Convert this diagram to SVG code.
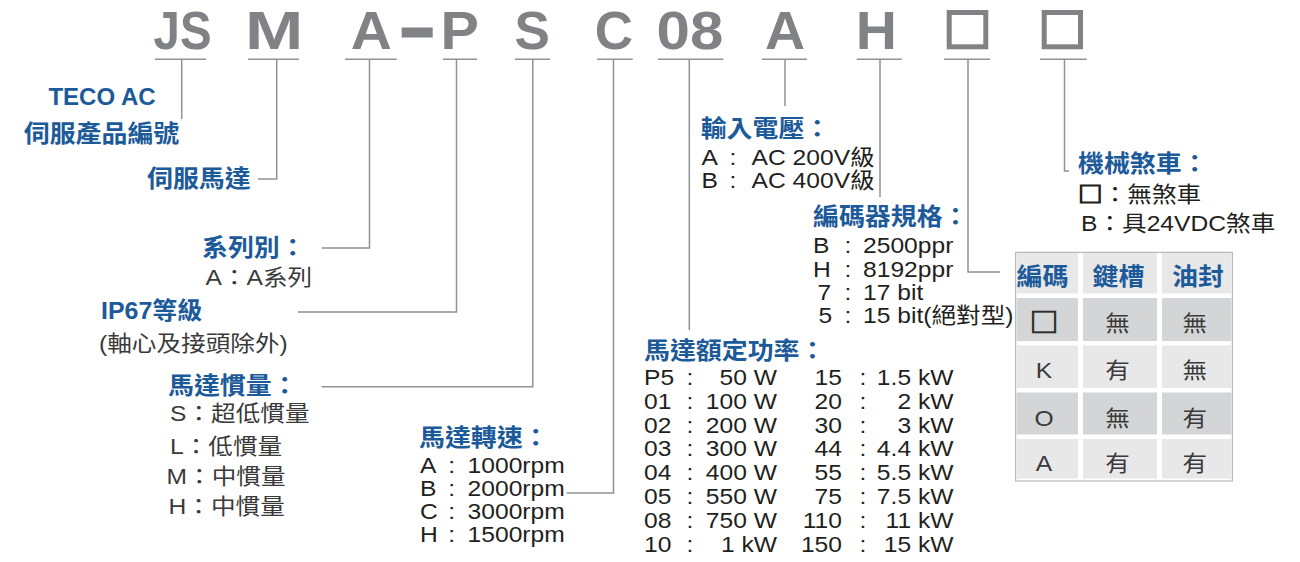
<svg xmlns="http://www.w3.org/2000/svg" width="1300" height="562" viewBox="0 0 1300 562">
<style>
.code{font-family:"Liberation Sans",Arial,sans-serif;font-weight:bold;font-size:53px;fill:#808285}
.h{font-family:"Liberation Sans","Noto Sans CJK TC",sans-serif;font-weight:bold;font-size:24px;fill:#1d5a9a}
.b{font-family:"Liberation Sans","Noto Sans CJK TC",sans-serif;font-size:22px;fill:#231f20}
.cj{font-family:"Noto Sans CJK TC",sans-serif}
.g{fill:#3a3a3a}
.e{text-anchor:end}
.m{text-anchor:middle}
.sq{font-family:"Noto Sans CJK TC",sans-serif;font-weight:bold;font-size:26px;stroke:#231f20;stroke-width:0.7}
.sq2{font-weight:bold;stroke:#231f20;stroke-width:1.1}
.ln{fill:none;stroke:#8f9194;stroke-width:1.5}
.cl{fill:#e8e8e9}
.cd{fill:#d4d5d6}
</style>
<rect width="1300" height="562" fill="#ffffff"/>

<!-- code segments -->
<g id="code-JS"><text class="code" x="153.6" y="49" textLength="57.9" lengthAdjust="spacingAndGlyphs">JS</text></g>
<g id="code-M"><text class="code" x="245.1" y="49" textLength="58.3" lengthAdjust="spacingAndGlyphs">M</text></g>
<g id="code-A"><text class="code" x="350.7" y="49" textLength="41.1" lengthAdjust="spacingAndGlyphs">A</text></g>
<g id="code-dash"><rect x="401.7" y="27.5" width="31" height="10" fill="#808285"/></g>
<g id="code-P"><text class="code" x="440.6" y="49" textLength="38.4" lengthAdjust="spacingAndGlyphs">P</text></g>
<g id="code-S"><text class="code" x="514.6" y="49" textLength="35.4" lengthAdjust="spacingAndGlyphs">S</text></g>
<g id="code-C"><text class="code" x="594.7" y="49" textLength="38.3" lengthAdjust="spacingAndGlyphs">C</text></g>
<g id="code-08"><text class="code" x="656.6" y="49" textLength="66.8" lengthAdjust="spacingAndGlyphs">08</text></g>
<g id="code-A2"><text class="code" x="765" y="49" textLength="40.1" lengthAdjust="spacingAndGlyphs">A</text></g>
<g id="code-H"><text class="code" x="855.7" y="49" textLength="41.2" lengthAdjust="spacingAndGlyphs">H</text></g>
<g id="code-box1"><rect x="949.2" y="12.5" width="36.6" height="34.3" fill="none" stroke="#808285" stroke-width="5"/></g>
<g id="code-box2"><rect x="1044.2" y="12.5" width="36.3" height="34.3" fill="none" stroke="#808285" stroke-width="5"/></g>

<!-- connectors -->
<g id="connectors" class="ln">
<path d="M155 59.3H206M248 59.3H299M345 59.3H396.7M443 59.3H477M515 59.3H550M597 59.3H632.7M658 59.3H723.3M762 59.3H807M856.7 59.3H901.7M944 59.3H990M1040 59.3H1086.7"/>
<path d="M181.7 59.3V119"/>
<path d="M276.7 59.3V179H258"/>
<path d="M369.5 59.3V248H321.7"/>
<path d="M456.5 59.3V312H298"/>
<path d="M532.8 59.3V386.7H321.7"/>
<path d="M613.5 59.3V493H566.7"/>
<path d="M689.3 59.3V330"/>
<path d="M785 59.3V106"/>
<path d="M880 59.3V197"/>
<path d="M968 59.3V272H1000"/>
<path d="M1064.5 59.3V171H1069"/>
</g>

<!-- labels -->
<g id="n-teco">
<text class="h m" x="102" y="104.6" font-size="25">TECO AC</text>
<g transform="scale(1.08 1)"><text class="h m" x="93.98" y="142">伺服產品編號</text></g>
</g>
<g id="n-servo"><g transform="scale(1.08 1)"><text class="h" x="136.11" y="187.5">伺服馬達</text></g></g>
<g id="n-series">
<g transform="scale(1.08 1)"><text class="h" x="187.04" y="256">系列別：</text></g>
<g transform="scale(1.12 1)"><text class="b g" x="183.48" y="285">A：A系列</text></g>
</g>
<g id="n-ip67">
<g transform="scale(1.04 1)"><text class="h" x="97.12" y="319">IP67等級</text></g>
<g transform="scale(1.12 1)"><text class="b g" x="88.39" y="351">(軸心及接頭除外)</text></g>
</g>
<g id="n-inertia">
<g transform="scale(1.08 1)"><text class="h" x="155.56" y="394">馬達慣量：</text></g>
<g transform="scale(1.12 1)" class="b g">
<text x="151.79" y="421">S：超低慣量</text>
<text x="151.79" y="454">L：低慣量</text>
<text x="148.66" y="484">M：中慣量</text>
<text x="150.45" y="514">H：中慣量</text>
</g>
</g>
<g id="n-speed">
<g transform="scale(1.08 1)"><text class="h" x="387.96" y="446">馬達轉速：</text></g>
<g transform="scale(1.12 1)" class="b">
<text x="375" y="473.5">A</text><text x="400.27" y="473.5">:</text><text x="417.5" y="473.5">1000rpm</text>
<text x="375" y="496.5">B</text><text x="400.27" y="496.5">:</text><text x="417.5" y="496.5">2000rpm</text>
<text x="375" y="519.5">C</text><text x="400.27" y="519.5">:</text><text x="417.5" y="519.5">3000rpm</text>
<text x="375" y="542.5">H</text><text x="400.27" y="542.5">:</text><text x="417.5" y="542.5">1500rpm</text>
</g>
</g>
<g id="n-power">
<g transform="scale(1.08 1)"><text class="h" x="596.3" y="359.5">馬達額定功率：</text></g>
<g transform="scale(1.12 1)" class="b">
<text x="575" y="385">P5</text><text x="613.04" y="385">:</text><text class="e" x="693.75" y="385">50 W</text><text class="e" x="751.79" y="385">15</text><text x="767.5" y="385">:</text><text class="e" x="851.34" y="385">1.5 kW</text>
<text x="575" y="408.8">01</text><text x="613.04" y="408.8">:</text><text class="e" x="693.75" y="408.8">100 W</text><text class="e" x="751.79" y="408.8">20</text><text x="767.5" y="408.8">:</text><text class="e" x="851.34" y="408.8">2 kW</text>
<text x="575" y="432.6">02</text><text x="613.04" y="432.6">:</text><text class="e" x="693.75" y="432.6">200 W</text><text class="e" x="751.79" y="432.6">30</text><text x="767.5" y="432.6">:</text><text class="e" x="851.34" y="432.6">3 kW</text>
<text x="575" y="456.4">03</text><text x="613.04" y="456.4">:</text><text class="e" x="693.75" y="456.4">300 W</text><text class="e" x="751.79" y="456.4">44</text><text x="767.5" y="456.4">:</text><text class="e" x="851.34" y="456.4">4.4 kW</text>
<text x="575" y="480.2">04</text><text x="613.04" y="480.2">:</text><text class="e" x="693.75" y="480.2">400 W</text><text class="e" x="751.79" y="480.2">55</text><text x="767.5" y="480.2">:</text><text class="e" x="851.34" y="480.2">5.5 kW</text>
<text x="575" y="504">05</text><text x="613.04" y="504">:</text><text class="e" x="693.75" y="504">550 W</text><text class="e" x="751.79" y="504">75</text><text x="767.5" y="504">:</text><text class="e" x="851.34" y="504">7.5 kW</text>
<text x="575" y="527.8">08</text><text x="613.04" y="527.8">:</text><text class="e" x="693.75" y="527.8">750 W</text><text class="e" x="751.79" y="527.8">110</text><text x="767.5" y="527.8">:</text><text class="e" x="851.34" y="527.8">11 kW</text>
<text x="575" y="551.6">10</text><text x="613.04" y="551.6">:</text><text class="e" x="693.75" y="551.6">1 kW</text><text class="e" x="751.79" y="551.6">150</text><text x="767.5" y="551.6">:</text><text class="e" x="851.34" y="551.6">15 kW</text>
</g>
</g>
<g id="n-voltage">
<g transform="scale(1.08 1)"><text class="h" x="648.8" y="137.5">輸入電壓：</text></g>
<g transform="scale(1.12 1)" class="b">
<text x="626.34" y="165">A</text><text x="651.43" y="165">:</text><text x="670.98" y="165">AC 200V級</text>
<text x="626.34" y="188.5">B</text><text x="651.43" y="188.5">:</text><text x="670.98" y="188.5">AC 400V級</text>
</g>
</g>
<g id="n-encoder">
<g transform="scale(1.08 1)"><text class="h" x="752.78" y="225">編碼器規格：</text></g>
<g transform="scale(1.12 1)" class="b">
<text x="725.89" y="253.5">B</text><text x="754.11" y="253.5">:</text><text x="770.54" y="253.5">2500ppr</text>
<text x="725.89" y="277">H</text><text x="754.11" y="277">:</text><text x="770.54" y="277">8192ppr</text>
<text x="729.91" y="300.5">7</text><text x="754.11" y="300.5">:</text><text x="770.54" y="300.5">17 bit</text>
<text x="730.8" y="323.5">5</text><text x="754.11" y="323.5">:</text><text x="770.54" y="323.5">15 bit(絕對型)</text>
</g>
</g>
<g id="n-brake">
<g transform="scale(1.08 1)"><text class="h" x="998.15" y="172.5">機械煞車：</text></g>
<g transform="scale(1.12 1)" class="b">
<text class="cj" x="962.5" y="202"><tspan class="sq2">□</tspan>：無煞車</text>
<text x="965.18" y="231">B：具24VDC煞車</text>
</g>
</g>
<g id="n-table">
<rect x="1015.7" y="252.3" width="216.6" height="228.7" fill="#ffffff" stroke="#a7a9ac" stroke-width="1"/>
<rect class="cl" x="1016.5" y="253" width="61.5" height="40.5"/>
<rect class="cl" x="1083" y="253" width="74" height="40.5"/>
<rect class="cl" x="1162" y="253" width="69.5" height="40.5"/>
<rect class="cd" x="1016.5" y="298" width="61.5" height="43"/>
<rect class="cd" x="1083" y="298" width="74" height="43"/>
<rect class="cd" x="1162" y="298" width="69.5" height="43"/>
<rect class="cl" x="1016.5" y="345.5" width="61.5" height="42.5"/>
<rect class="cl" x="1083" y="345.5" width="74" height="42.5"/>
<rect class="cl" x="1162" y="345.5" width="69.5" height="42.5"/>
<rect class="cd" x="1016.5" y="392.5" width="61.5" height="42"/>
<rect class="cd" x="1083" y="392.5" width="74" height="42"/>
<rect class="cd" x="1162" y="392.5" width="69.5" height="42"/>
<rect class="cl" x="1016.5" y="439" width="61.5" height="39.5"/>
<rect class="cl" x="1083" y="439" width="74" height="39.5"/>
<rect class="cl" x="1162" y="439" width="69.5" height="39.5"/>
<g transform="scale(1.08 1)">
<text class="h m" x="965.28" y="285">編碼</text>
<text class="h m" x="1035.65" y="285">鍵槽</text>
<text class="h m" x="1109.26" y="285">油封</text>
</g>
<g transform="scale(1.12 1)" class="b g">
<text class="m sq" x="932.14" y="332.5">□</text><text class="m" x="997.77" y="331.5">無</text><text class="m" x="1066.7" y="331.5">無</text>
<text class="m" x="932.14" y="378">K</text><text class="m" x="997.77" y="378">有</text><text class="m" x="1066.7" y="378">無</text>
<text class="m" x="932.14" y="426">O</text><text class="m" x="997.77" y="426">無</text><text class="m" x="1066.7" y="426">有</text>
<text class="m" x="932.14" y="471.5">A</text><text class="m" x="997.77" y="471.5">有</text><text class="m" x="1066.7" y="471.5">有</text>
</g>
</g>
</svg>
